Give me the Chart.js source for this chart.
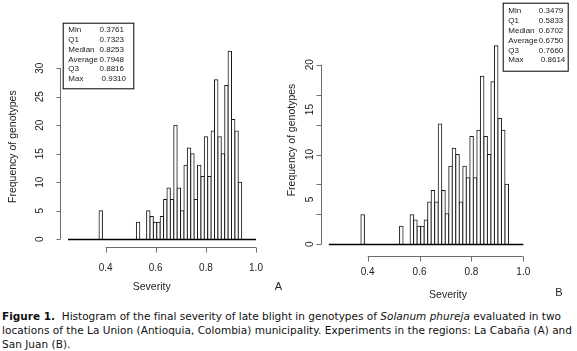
<!DOCTYPE html>
<html><head><meta charset="utf-8">
<script src="https://cdn.jsdelivr.net/npm/chart.js@4"></script>
<style>
html,body{margin:0;padding:0;background:#fff;width:577px;height:351px;overflow:hidden;}
#wa{position:absolute;left:0;top:0;width:290px;height:305px;}
#wb{position:absolute;left:280px;top:0;width:297px;height:305px;}
canvas{display:block;}
.cap{position:absolute;left:2px;white-space:nowrap;font-family:"DejaVu Sans",Verdana,sans-serif;font-size:10.5px;line-height:13px;color:#111;}
</style></head><body>
<div id="wa"><canvas id="ca" width="290" height="305"></canvas></div>
<div id="wb"><canvas id="cb" width="297" height="305"></canvas></div>
<div class="cap" id="l1" style="top:310px"><b>Figure 1.</b>&nbsp; Histogram of the final severity of late blight in genotypes of <i>Solanum phureja</i> evaluated in two</div>
<div class="cap" id="l2" style="top:323.6px">locations of the La Union (Antioquia, Colombia) municipality. Experiments in the regions: La Cabaña (A) and</div>
<div class="cap" id="l3" style="top:337.5px">San Juan (B).</div>
<script>
// ---- data ----
const binCenters = [0.3806,0.3941,0.4077,0.4212,0.4348,0.4483,0.4619,0.4754,0.4890,0.5025,
  0.5161,0.5296,0.5432,0.5567,0.5703,0.5838,0.5974,0.6109,0.6245,0.6380,
  0.6516,0.6651,0.6787,0.6922,0.7058,0.7193,0.7329,0.7464,0.7600,0.7735,
  0.7871,0.8006,0.8142,0.8277,0.8413,0.8548,0.8684,0.8819,0.8955,0.9090,
  0.9226,0.9361];
const countsA = [5, 0,0,0,0,0,0,0,0,0,0, 3, 0, 0, 5, 4, 3, 3, 4, 7, 9, 7, 20, 9, 5, 13, 16, 15, 7, 13,
  11, 18, 11, 19, 28, 18, 15, 27, 33, 21, 19, 10];
const countsB = [3.3, 0,0,0,0,0,0,0,0,0,0, 2.0, 0, 0, 3.3, 2.7, 2.0, 2.0, 2.7, 4.7, 6.0, 4.7, 13.4, 6.0, 3.4, 8.7, 10.7, 10.0, 4.7, 8.7,
  7.4, 12.0, 7.4, 12.7, 18.7, 12.0, 10.0, 18.1, 22.1, 14.0, 12.7, 6.7];
const xTickValues = [0.4, 0.6, 0.8, 1.0];
const xTickLabels = ['0.4', '0.6', '0.8', '1.0'];
const yTicksA = [0, 5, 10, 15, 20, 25, 30];
const yTickLabelsB = [0, 5, 10, 15, 20];
const yTickMarksB = [0, 3.33, 6.67, 10, 13.33, 16.67, 20];
const statNames = ['Min', 'Q1', 'Median', 'Average', 'Q3', 'Max'];
const statsA = ['0.3761', '0.7323', '0.8253', '0.7948', '0.8816', '0.9310'];
const statsB = ['0.3479', '0.5833', '0.6702', '0.6750', '0.7660', '0.8614'];
const xTitle = 'Severity';
const yTitle = 'Frequency of genotypes';

const FONT = '"Liberation Sans", Arial, sans-serif';

const rAxes = {
  id: 'rAxes',
  afterDatasetsDraw(chart, args, o) {
    const ctx = chart.ctx, xs = chart.scales.x, ys = chart.scales.y;
    ctx.save();
    // zero baseline
    const y0 = Math.round(ys.getPixelForValue(0)) + 0.5;
    ctx.strokeStyle = '#000'; ctx.lineWidth = 1.3;
    ctx.beginPath(); ctx.moveTo(xs.left, y0); ctx.lineTo(xs.right, y0); ctx.stroke();
    // x axis
    ctx.lineWidth = 1; ctx.strokeStyle = '#6e6e6e';
    const xa = o.xAxisY;
    ctx.beginPath();
    ctx.moveTo(xs.getPixelForValue(o.xTicks[0]), xa);
    ctx.lineTo(xs.getPixelForValue(o.xTicks[o.xTicks.length - 1]), xa);
    o.xTicks.forEach(v => { const p = Math.round(xs.getPixelForValue(v)) + 0.5; ctx.moveTo(p, xa); ctx.lineTo(p, xa + 5); });
    ctx.stroke();
    ctx.fillStyle = '#222'; ctx.font = '10px ' + FONT;
    ctx.textAlign = 'center'; ctx.textBaseline = 'middle';
    o.xTicks.forEach((v, i) => ctx.fillText(o.xLabels[i], xs.getPixelForValue(v), o.xLabelY));
    // y axis
    const ya = o.yAxisX;
    ctx.beginPath();
    ctx.moveTo(ya, ys.getPixelForValue(o.yMarks[0]));
    ctx.lineTo(ya, ys.getPixelForValue(o.yMarks[o.yMarks.length - 1]));
    o.yMarks.forEach(v => { const p = Math.round(ys.getPixelForValue(v)) + 0.5; ctx.moveTo(ya, p); ctx.lineTo(ya - o.yTickLen, p); });
    ctx.stroke();
    o.yLabels.forEach(v => {
      ctx.save(); ctx.translate(o.yLabelX, ys.getPixelForValue(v)); ctx.rotate(-Math.PI / 2);
      ctx.fillText(String(v), 0, 0); ctx.restore();
    });
    // titles
    ctx.font = '10.5px ' + FONT;
    ctx.save(); ctx.translate(o.yTitleX, o.yTitleY); ctx.rotate(-Math.PI / 2);
    ctx.fillText(yTitle, 0, 0); ctx.restore();
    ctx.fillText(xTitle, o.xTitleX, o.xTitleY);
    ctx.font = '11px ' + FONT;
    ctx.fillText(o.letter, o.letterX, o.letterY);
    // stats box
    const b = o.box;
    ctx.fillStyle = '#fff';
    ctx.fillRect(b.x, b.y, b.w, b.h);
    ctx.strokeStyle = '#000'; ctx.lineWidth = 1;
    ctx.strokeRect(b.x + 0.5, b.y + 0.5, b.w, b.h);
    ctx.fillStyle = '#222'; ctx.font = '8px ' + FONT;
    ctx.textBaseline = 'middle';
    statNames.forEach((n, i) => {
      const yy = b.firstY + i * b.step;
      ctx.textAlign = 'left'; ctx.fillText(n, b.labelX, yy);
      ctx.textAlign = 'right'; ctx.fillText(o.stats[i], i === statNames.length - 1 ? b.valueR + 2 : b.valueR, yy);
    });
    ctx.restore();
  }
};

function makeChart(id, counts, opts) {
  return new Chart(document.getElementById(id), {
    type: 'bar',
    data: {
      datasets: [{
        data: binCenters.map((c, i) => ({ x: c, y: counts[i] })),
        backgroundColor: '#fff',
        borderColor: '#1a1a1a',
        borderWidth: 1,
        borderSkipped: 'start',
        inflateAmount: 0.5,
        barPercentage: 1,
        categoryPercentage: 1
      }]
    },
    options: {
      responsive: false,
      animation: false,
      devicePixelRatio: 1,
      layout: { padding: opts.pad },
      scales: {
        x: { type: 'linear', min: 0.25, max: 1.0, display: false, offset: false },
        y: { min: 0, max: opts.yMax, display: false }
      },
      plugins: { legend: { display: false }, tooltip: { enabled: false }, rAxes: opts.axes }
    },
    plugins: [rAxes]
  });
}

makeChart('ca', countsA, {
  pad: { left: 68, right: 34, top: 39.8, bottom: 65.7 },
  yMax: 35,
  axes: {
    xTicks: xTickValues, xLabels: xTickLabels, xAxisY: 247.5, xLabelY: 268.3,
    yAxisX: 60.5, yTickLen: 4, yLabelX: 40, yMarks: yTicksA, yLabels: yTicksA,
    yTitleX: 13.3, yTitleY: 146.7, xTitleX: 151.7, xTitleY: 286.7,
    letter: 'A', letterX: 278.3, letterY: 287,
    stats: statsA,
    box: { x: 62.7, y: 22.7, w: 70.6, h: 65.6, labelX: 68.3, valueR: 124, firstY: 30, step: 9.8 }
  }
});

makeChart('cb', countsB, {
  pad: { left: 48.8, right: 53.7, top: 19.8, bottom: 60.7 },
  yMax: 25,
  axes: {
    xTicks: xTickValues, xLabels: xTickLabels, xAxisY: 256.5, xLabelY: 272.3,
    yAxisX: 41.5, yTickLen: 5, yLabelX: 30, yMarks: yTickMarksB, yLabels: yTickLabelsB,
    yTitleX: 12.5, yTitleY: 140, xTitleX: 168, xTitleY: 295,
    letter: 'B', letterX: 279, letterY: 293,
    stats: statsB,
    box: { x: 222.7, y: 2.7, w: 65, h: 68, labelX: 228.3, valueR: 283.3, firstY: 10.7, step: 9.9 }
  }
});

// caption line widths matched to the reference
function fitLine(id, target) {
  const el = document.getElementById(id);
  const w = el.getBoundingClientRect().width;
  const n = el.textContent.length;
  const ls = (target - w) / n;
  el.style.letterSpacing = ls + 'px';
  return ls;
}
const ls2 = fitLine('l2', 570);
fitLine('l1', 559);
document.getElementById('l3').style.letterSpacing = ls2 + 'px';
</script>
</body></html>
